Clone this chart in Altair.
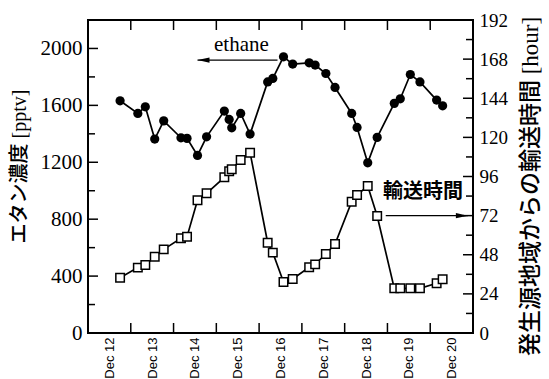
import json
import altair as alt
import pandas as pd

# ---------------- data ----------------
day_labels = ["Dec 12", "Dec 13", "Dec 14", "Dec 15", "Dec 16",
              "Dec 17", "Dec 18", "Dec 19", "Dec 20"]
# sampling time, in days since Dec 12 00:00
t_days = [0.75, 1.165, 1.34, 1.56, 1.77, 2.173, 2.315, 2.56, 2.772, 3.187,
          3.30, 3.36, 3.569, 3.789, 4.20, 4.32, 4.57, 4.785, 5.17, 5.31,
          5.56, 5.775, 6.164, 6.29, 6.539, 6.76, 7.16, 7.30, 7.535, 7.76,
          8.15, 8.29]
ethane_pptv = [1632, 1543, 1590, 1363, 1491, 1372, 1368, 1248, 1379, 1560,
               1501, 1442, 1543, 1398, 1765, 1789, 1941, 1890, 1899, 1883,
               1824, 1726, 1543, 1445, 1196, 1375, 1614, 1646, 1817, 1765,
               1637, 1597]
transport_hour = [33.9, 40.1, 41.7, 46.8, 51.3, 58.1, 59.1, 81.4, 85.7, 95.5,
                  99.2, 100.4, 106.1, 110.6, 55.4, 49.3, 31.3, 33.1, 40.3, 42.1,
                  48.5, 54.6, 80.5, 84.6, 90.2, 71.8, 27.4, 27.4, 27.4, 27.4,
                  30.5, 32.9]

left_ticks = list(range(0, 2201, 200))
left_labels = list(range(0, 2001, 400))
right_ticks = list(range(0, 193, 12))
right_labels = list(range(0, 193, 24))
day_bounds = list(range(0, 10))

left_title = "エタン濃度 [pptv]"
right_title = "発生源地域からの輸送時間 [hour]"

# ---------------- styling ----------------
W, H = 385, 313
SERIF = "Liberation Serif"
MIX = "Liberation Serif, Noto Sans CJK JP"
BLACK = "#000000"

df = pd.DataFrame({"t": t_days, "ethane": ethane_pptv, "hours": transport_hour})

xscale = alt.Scale(domain=[0, 9], nice=False, zero=False)
yL = alt.Scale(domain=[0, 2200], nice=False, zero=True)
yR = alt.Scale(domain=[0, 192], nice=False, zero=True)

label_expr = json.dumps(day_labels) + "[floor(datum.value)]"
x_axis = alt.Axis(values=[i + 0.5 for i in range(len(day_labels))],
                  labelExpr=label_expr, labelAngle=270, labelFont="Liberation Sans",
                  labelFontSize=13, labelColor=BLACK, labelPadding=4,
                  tickSize=0, domain=False, grid=False, title=None)

left_axis = alt.Axis(values=left_labels, orient="left", format="d", tickSize=0,
                     domain=False, grid=False, labelFont=SERIF, labelFontSize=21,
                     labelColor=BLACK, labelPadding=6, title=left_title,
                     titleFont=MIX, titleFontSize=20, titleFontWeight=500,
                     titleColor=BLACK, titleAngle=270, titleX=-69, titleY=146,
                     titleAlign="center", titleBaseline="middle")
right_axis = alt.Axis(values=right_labels, orient="right", format="d", tickSize=0,
                      domain=False, grid=False, labelFont=SERIF, labelFontSize=19,
                      labelColor=BLACK, labelPadding=6, title=right_title,
                      titleFont=MIX, titleFontSize=23, titleFontWeight=500,
                      titleColor=BLACK, titleAngle=270, titleX=57, titleY=166,
                      titleAlign="center", titleBaseline="middle")


def Xf(field):
    return alt.X(field, scale=xscale, axis=x_axis)


# ethane series
eth_base = alt.Chart(df).encode(x=Xf("t:Q"), y=alt.Y("ethane:Q", scale=yL, axis=left_axis))
eth = alt.layer(
    eth_base.mark_line(color=BLACK, strokeWidth=1.7),
    eth_base.mark_circle(size=85, color=BLACK, opacity=1),
)

# transport time series
tr_base = alt.Chart(df).encode(x=Xf("t:Q"), y=alt.Y("hours:Q", scale=yR, axis=right_axis))
tr = alt.layer(
    tr_base.mark_line(color=BLACK, strokeWidth=1.7),
    tr_base.mark_point(shape="square", size=72, filled=True, fill="white",
                       stroke=BLACK, strokeWidth=1.5, opacity=1),
)

# inward tick marks
lt = pd.DataFrame({"v": left_ticks})
lt["major"] = [v % 400 == 0 for v in left_ticks]
left_major = alt.Chart(lt).transform_filter("datum.major").mark_rule(
    color=BLACK, strokeWidth=1.5).encode(
    y=alt.Y("v:Q", scale=yL, axis=None), x=alt.value(0), x2=alt.value(10))
left_minor = alt.Chart(lt).transform_filter("!datum.major").mark_rule(
    color=BLACK, strokeWidth=1.5).encode(
    y=alt.Y("v:Q", scale=yL, axis=None), x=alt.value(0), x2=alt.value(7))
left_ticks_layer = alt.layer(left_major, left_minor)

rt = pd.DataFrame({"v": right_ticks})
rt["major"] = [v % 24 == 0 for v in right_ticks]
right_major = alt.Chart(rt).transform_filter("datum.major").mark_rule(
    color=BLACK, strokeWidth=1.5).encode(
    y=alt.Y("v:Q", scale=yR, axis=None), x=alt.value(W), x2=alt.value(W - 10))
right_minor = alt.Chart(rt).transform_filter("!datum.major").mark_rule(
    color=BLACK, strokeWidth=1.5).encode(
    y=alt.Y("v:Q", scale=yR, axis=None), x=alt.value(W), x2=alt.value(W - 7))
right_ticks_layer = alt.layer(right_major, right_minor)

xt = pd.DataFrame({"t": day_bounds})
bottom_ticks = alt.Chart(xt).mark_rule(color=BLACK, strokeWidth=1.5).encode(
    x=Xf("t:Q"), y=alt.value(H), y2=alt.value(H - 10))
top_ticks = alt.Chart(xt).mark_rule(color=BLACK, strokeWidth=1.5).encode(
    x=Xf("t:Q"), y=alt.value(0), y2=alt.value(10))

# annotations
eth_lab = pd.DataFrame({"t": [3.586], "v": [2023], "s": ["ethane"]})
eth_text = alt.Chart(eth_lab).mark_text(font=SERIF, fontSize=21, color=BLACK,
                                        baseline="middle", align="center").encode(
    x=Xf("t:Q"), y=alt.Y("v:Q", scale=yL, axis=None), text="s:N")
eth_arr = pd.DataFrame({"t": [2.56], "t2": [4.43], "v": [1918]})
eth_shaft = alt.Chart(eth_arr).mark_rule(color=BLACK, strokeWidth=1.3).encode(
    x=Xf("t:Q"), x2="t2:Q", y=alt.Y("v:Q", scale=yL, axis=None))
eth_head = alt.Chart(eth_arr).mark_point(shape="M0,0L2,-0.45L2,0.45Z", size=144,
                                         filled=True, color=BLACK, opacity=1).encode(
    x=Xf("t:Q"), y=alt.Y("v:Q", scale=yL, axis=None))
eth_ann = alt.layer(eth_text, eth_shaft, eth_head)

tr_lab = pd.DataFrame({"t": [7.83], "v": [86.5], "s": ["輸送時間"]})
tr_text = alt.Chart(tr_lab).mark_text(font="Noto Sans CJK JP", fontSize=20,
                                      fontWeight="bold", color=BLACK,
                                      baseline="middle", align="center").encode(
    x=Xf("t:Q"), y=alt.Y("v:Q", scale=yR, axis=None), text="s:N")
tr_arr = pd.DataFrame({"t": [8.88], "t2": [6.96], "v": [72]})
tr_shaft = alt.Chart(tr_arr).mark_rule(color=BLACK, strokeWidth=1.3).encode(
    x=Xf("t:Q"), x2="t2:Q", y=alt.Y("v:Q", scale=yR, axis=None))
tr_head = alt.Chart(tr_arr).mark_point(shape="M0,0L-2,-0.45L-2,0.45Z", size=144,
                                       filled=True, color=BLACK, opacity=1).encode(
    x=Xf("t:Q"), y=alt.Y("v:Q", scale=yR, axis=None))
tr_ann = alt.layer(tr_text, tr_shaft, tr_head)

chart = alt.layer(
    eth, tr, left_ticks_layer, right_ticks_layer, bottom_ticks, top_ticks,
    eth_ann, tr_ann,
).resolve_scale(y="independent").properties(
    width=W, height=H,
    autosize=alt.AutoSizeParams(type="none"),
    padding={"left": 88, "top": 20, "right": 76, "bottom": 46},
    background="white",
).configure_view(stroke=BLACK, strokeWidth=2)

chart.save("out.html", embed_options={"renderer": "svg", "actions": False})
